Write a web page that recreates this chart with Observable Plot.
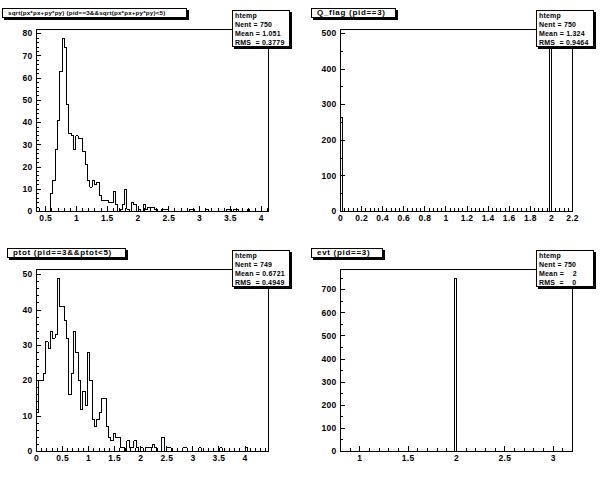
<!DOCTYPE html>
<html><head><meta charset="utf-8">
<script src="https://cdn.jsdelivr.net/npm/d3@7"></script>
<script src="https://cdn.jsdelivr.net/npm/@observablehq/plot@0.6"></script>
<style>
body{margin:0;background:#fff;}
#canvas{position:relative;width:608px;height:480px;background:#fff;overflow:hidden;font-family:"Liberation Sans",Arial,sans-serif;}
.pad{position:absolute;width:304px;height:240px;}
.pad svg{position:absolute;left:0;top:0;}
.title{position:absolute;top:8px;height:8px;border:1px solid #000;box-shadow:2px 2px 0 #000;background:#fff;font-size:8px;font-weight:bold;line-height:8px;white-space:pre;letter-spacing:0.7px;box-sizing:content-box;padding-left:5px;overflow:hidden;}
.stats{position:absolute;left:232px;top:10px;width:54px;height:35px;border:1px solid #000;box-shadow:2px 2px 0 #000;background:#fff;font-size:7px;font-weight:bold;line-height:9px;white-space:pre;padding-left:2px;letter-spacing:0.2px;}
</style></head>
<body><div id="canvas"></div>
<script>
// ---------- data ----------
// pad 1 : sqrt(...) histogram, 100 bins
const p1Title = "sqrt(px*px+py*py) (pid==3&&sqrt(px*px+py*py)<5)";
const p1Range = [0.35, 4.119];
const p1Counts = [0,0,0,0,0,0,8,14,28,41,63,78,74,48,35,34,28,34,33,33,
  27,21,14,11,14,12,13,7,5,5,5,4,4,9,3,0,1,3,10,1,
  0,4,3,0,1,0,3,1,2,2,2,1,0,0,1,1,1,0,0,0,
  0,0,0,0,0,0,1,1,0,0,0,0,0,1,0,0,0,0,0,0,
  0,0,1,1,0,1,1,0,0,0,0,1,0,0,0,0,0,0,0,0];
const p1XTicks = [0.5,1,1.5,2,2.5,3,3.5,4];
const p1YTicks = [0,10,20,30,40,50,60,70,80];
const p1Stats = ["htemp","Nent = 750","Mean = 1.051","RMS  = 0.3779"];

// pad 2 : Q_flag
const p2Title = "Q_flag (pid==3)";
const p2Range = [0, 2.2];
const p2BinIndex = [0, 90];
const p2BinCounts = [263, 487];
const p2XTicks = [0,0.2,0.4,0.6,0.8,1,1.2,1.4,1.6,1.8,2,2.2];
const p2YTicks = [0,100,200,300,400,500];
const p2Stats = ["htemp","Nent = 750","Mean = 1.324","RMS  = 0.9464"];

// pad 3 : ptot
const p3Title = "ptot (pid==3&&ptot<5)";
const p3Range = [0, 4.45];
const p3Counts = [11,20,20,22,31,29,34,32,33,49,41,41,37,32,16,22,34,28,20,12,
  17,13,28,20,9,7,9,11,15,15,7,4,3,5,4,4,1,1,0,3,
  1,1,3,1,0,1,0,1,1,1,2,1,0,0,4,0,1,1,0,0,
  0,0,0,1,1,0,0,0,0,0,1,0,0,0,0,0,0,0,0,1,
  0,0,0,0,0,0,0,0,0,0,1,0,0,0,0,0,0,0,0,0];
const p3XTicks = [0,0.5,1,1.5,2,2.5,3,3.5,4];
const p3YTicks = [0,10,20,30,40,50];
const p3Stats = ["htemp","Nent = 749","Mean = 0.6721","RMS  = 0.4949"];

// pad 4 : evt
const p4Title = "evt (pid==3)";
const p4Range = [0.8, 3.2];
const p4BinIndex = [49];
const p4BinCounts = [750];
const p4XTicks = [1,1.5,2,2.5,3];
const p4YTicks = [0,100,200,300,400,500,600,700];
const p4Stats = ["htemp","Nent = 750","Mean =    2","RMS  =    0"];

const NBINS = 100;
function sparse(idx, cnt){ const a = new Array(NBINS).fill(0); idx.forEach((b,k)=>a[b]=cnt[k]); return a; }

// ---------- drawing ----------
const W = 304, H = 240, ML = 36, MR = 36, MT = 29, MB = 29;
const FW = W - ML - MR, FH = H - MT - MB;

function pad(cfg){
  const {counts, range, xTicks, yTicks, xMinorStep, yMinorStep} = cfg;
  const bw = (range[1]-range[0]) / counts.length;
  const pts = [{x: range[0], y: 0}];
  counts.forEach((c,i)=>pts.push({x: range[0] + i*bw, y: c}));
  pts.push({x: range[1], y: counts[counts.length-1]});
  pts.push({x: range[1], y: 0});
  const yMax = 1.05 * d3.max(counts);
  const xMinor = d3.range(Math.ceil(range[0]/xMinorStep - 1e-6)*xMinorStep, range[1] + 1e-9, xMinorStep).filter(v=>v>=range[0]-1e-9 && v<=range[1]+1e-9);
  const yMinor = d3.range(0, yMax, yMinorStep);
  const fmt = d3.format("~g");
  return Plot.plot({
    width: W, height: H, marginLeft: ML, marginRight: MR, marginTop: MT, marginBottom: MB,
    x: {domain: range}, y: {domain: [0, yMax]},
    style: {fontFamily: "Liberation Sans, Arial, sans-serif", fontSize: "8.5px", fontWeight: "bold", background: "transparent", overflow: "visible", color: "black", letterSpacing: "0.3px"},
    marks: [
      Plot.line(pts, {x: "x", y: "y", curve: "step-after", stroke: "black", strokeWidth: 1, shapeRendering: "crispEdges"}),
      Plot.frame({stroke: "black", strokeWidth: 1, shapeRendering: "crispEdges"}),
      Plot.tickX(xMinor, {x: d=>d, insetTop: FH - 3, stroke: "black", strokeWidth: 1, shapeRendering: "crispEdges"}),
      Plot.tickX(xTicks, {x: d=>d, insetTop: FH - 5, stroke: "black", strokeWidth: 1, shapeRendering: "crispEdges"}),
      Plot.tickY(yMinor, {y: d=>d, insetRight: FW - 3, stroke: "black", strokeWidth: 1, shapeRendering: "crispEdges"}),
      Plot.tickY(yTicks, {y: d=>d, insetRight: FW - 5, stroke: "black", strokeWidth: 1, shapeRendering: "crispEdges"}),
      Plot.axisX({ticks: xTicks, tickSize: 0, tickPadding: 3, tickFormat: fmt, label: null}),
      Plot.axisY({ticks: yTicks, tickSize: 0, tickPadding: 4, tickFormat: fmt, label: null})
    ]
  });
}

const canvas = document.getElementById("canvas");
const pads = [
  {left: 0, top: 0, counts: p1Counts, range: p1Range, xTicks: p1XTicks, yTicks: p1YTicks, xMinorStep: 0.1, yMinorStep: 2, title: p1Title, titleLeft: 2, titleW: 178, titleFont: 6.2, stats: p1Stats},
  {left: 304, top: 0, counts: sparse(p2BinIndex, p2BinCounts), range: p2Range, xTicks: p2XTicks, yTicks: p2YTicks, xMinorStep: 0.04, yMinorStep: 50, title: p2Title, titleLeft: 7, titleW: 78, titleFont: 8, stats: p2Stats},
  {left: 0, top: 240, counts: p3Counts, range: p3Range, xTicks: p3XTicks, yTicks: p3YTicks, xMinorStep: 0.1, yMinorStep: 2, title: p3Title, titleLeft: 7, titleW: 112, titleFont: 8, stats: p3Stats},
  {left: 304, top: 240, counts: sparse(p4BinIndex, p4BinCounts), range: p4Range, xTicks: p4XTicks, yTicks: p4YTicks, xMinorStep: 0.1, yMinorStep: 50, title: p4Title, titleLeft: 7, titleW: 65, titleFont: 8, stats: p4Stats}
];
for (const p of pads){
  const div = document.createElement("div");
  div.className = "pad";
  div.style.left = p.left + "px"; div.style.top = p.top + "px";
  div.appendChild(pad(p));
  const t = document.createElement("div");
  t.className = "title";
  t.style.left = p.titleLeft + "px";
  t.style.width = p.titleW + "px";
  t.style.fontSize = p.titleFont + "px";
  if (p.titleFont < 8) t.style.letterSpacing = "0.2px";
  t.textContent = p.title;
  div.appendChild(t);
  const s = document.createElement("div");
  s.className = "stats";
  s.textContent = p.stats.join("\n");
  div.appendChild(s);
  canvas.appendChild(div);
}
</script>
</body></html>
